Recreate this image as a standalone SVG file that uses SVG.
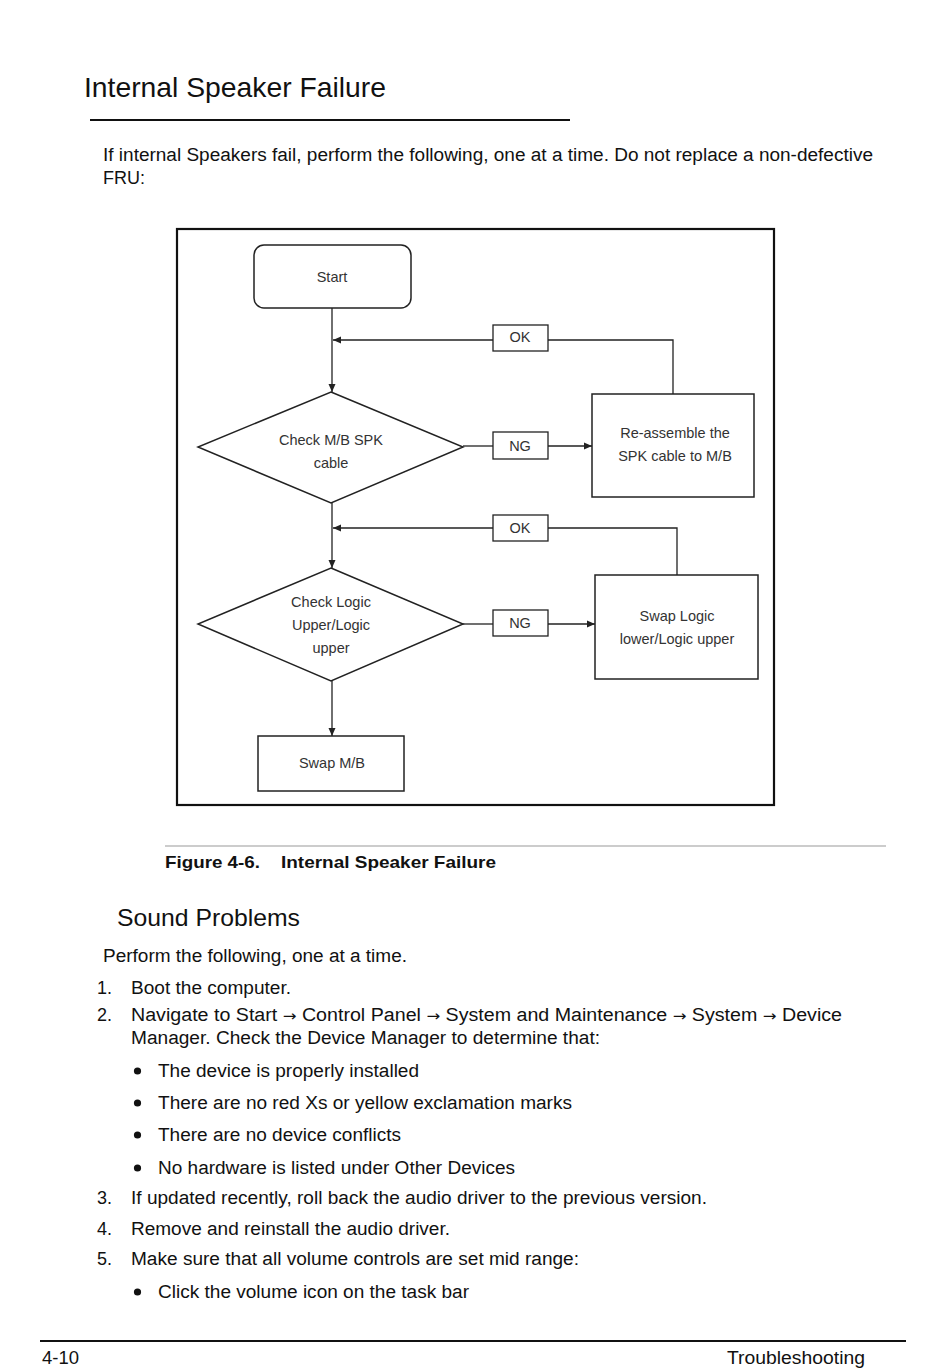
<svg xmlns="http://www.w3.org/2000/svg" width="950" height="1368" viewBox="0 0 950 1368">
<style>
.t{font-family:"Liberation Sans",Arial,sans-serif;fill:#111}
.h1{font-size:28px}
.h2{font-size:24px}
.b{font-size:18px}
.cap{font-size:17px;font-weight:bold}
.ar{font-family:"DejaVu Sans",sans-serif;font-size:15px}
.fc{font-family:"Liberation Sans",Arial,sans-serif;font-size:14.5px;fill:#333;text-anchor:middle}
.shape{fill:#fff;stroke:#222;stroke-width:1.5}
.lbl{fill:#fff;stroke:#222;stroke-width:1.3}
.ln{fill:none;stroke:#222;stroke-width:1.3}
</style>
<defs>
<marker id="ah" markerWidth="9" markerHeight="9" refX="8" refY="4.5" orient="auto" markerUnits="userSpaceOnUse">
<path d="M0,1 L8,4.5 L0,8 Z" fill="#222"/>
</marker>
</defs>
<rect width="950" height="1368" fill="#fff"/>

<!-- header -->
<text class="t h1" x="84" y="97" textLength="302" lengthAdjust="spacingAndGlyphs">Internal Speaker Failure</text>
<line x1="90" y1="120" x2="570" y2="120" stroke="#111" stroke-width="2"/>
<text class="t b" x="103" y="161" textLength="770" lengthAdjust="spacingAndGlyphs">If internal Speakers fail, perform the following, one at a time. Do not replace a non-defective</text>
<text class="t b" x="103" y="184">FRU:</text>

<!-- figure frame -->
<rect x="177" y="229" width="597" height="576" fill="none" stroke="#111" stroke-width="2.2"/>

<!-- connectors -->
<g id="connectors">
<line class="ln" x1="332" y1="308" x2="332" y2="392" marker-end="url(#ah)"/>
<polyline class="ln" points="673,394 673,340 548,340"/>
<line class="ln" x1="493" y1="340" x2="333" y2="340" marker-end="url(#ah)"/>
<line class="ln" x1="463" y1="446" x2="493" y2="446"/>
<line class="ln" x1="548" y1="446" x2="592" y2="446" marker-end="url(#ah)"/>
<line class="ln" x1="332" y1="503" x2="332" y2="568" marker-end="url(#ah)"/>
<polyline class="ln" points="677,575 677,528 548,528"/>
<line class="ln" x1="493" y1="528" x2="333" y2="528" marker-end="url(#ah)"/>
<line class="ln" x1="463" y1="624" x2="493" y2="624"/>
<line class="ln" x1="548" y1="624" x2="595" y2="624" marker-end="url(#ah)"/>
<line class="ln" x1="332" y1="681" x2="332" y2="736" marker-end="url(#ah)"/>
</g>

<!-- nodes -->
<g id="start">
<rect class="shape" x="254" y="245" width="157" height="63" rx="10"/>
<text class="fc" x="332" y="282">Start</text>
</g>
<g id="ok1">
<rect class="lbl" x="493" y="325" width="55" height="26"/>
<text class="fc" x="520" y="342">OK</text>
</g>
<g id="check-spk">
<polygon class="shape" points="331,392 463,447 331,503 198,447"/>
<text class="fc" x="331" y="445">Check M/B SPK</text>
<text class="fc" x="331" y="468">cable</text>
</g>
<g id="ng1">
<rect class="lbl" x="493" y="432" width="55" height="27"/>
<text class="fc" x="520" y="451">NG</text>
</g>
<g id="reassemble">
<rect class="shape" x="592" y="394" width="162" height="103"/>
<text class="fc" x="675" y="438">Re-assemble the</text>
<text class="fc" x="675" y="461">SPK cable to M/B</text>
</g>
<g id="ok2">
<rect class="lbl" x="493" y="515" width="55" height="26"/>
<text class="fc" x="520" y="533">OK</text>
</g>
<g id="check-logic">
<polygon class="shape" points="331,568 463,624 331,681 198,624"/>
<text class="fc" x="331" y="607">Check Logic</text>
<text class="fc" x="331" y="630">Upper/Logic</text>
<text class="fc" x="331" y="653">upper</text>
</g>
<g id="ng2">
<rect class="lbl" x="493" y="610" width="55" height="26"/>
<text class="fc" x="520" y="628">NG</text>
</g>
<g id="swap-logic">
<rect class="shape" x="595" y="575" width="163" height="104"/>
<text class="fc" x="677" y="621">Swap Logic</text>
<text class="fc" x="677" y="644">lower/Logic upper</text>
</g>
<g id="swap-mb">
<rect class="shape" x="258" y="736" width="146" height="55"/>
<text class="fc" x="332" y="768">Swap M/B</text>
</g>

<!-- caption -->
<line x1="165" y1="846" x2="886" y2="846" stroke="#999" stroke-width="1.2"/>
<text class="t cap" x="165" y="868" textLength="95" lengthAdjust="spacingAndGlyphs">Figure 4-6.</text>
<text class="t cap" x="281" y="868" textLength="215" lengthAdjust="spacingAndGlyphs">Internal Speaker Failure</text>

<!-- sound problems -->
<text class="t h2" x="117" y="926" textLength="183" lengthAdjust="spacingAndGlyphs">Sound Problems</text>
<text class="t b" x="103" y="962" textLength="304" lengthAdjust="spacingAndGlyphs">Perform the following, one at a time.</text>

<text class="t b" x="97" y="994">1.</text>
<text class="t b" x="131" y="994" textLength="160" lengthAdjust="spacingAndGlyphs">Boot the computer.</text>
<text class="t b" x="97" y="1021">2.</text>
<text class="t b" x="131" y="1021" textLength="711" lengthAdjust="spacingAndGlyphs">Navigate to Start <tspan class="ar">→</tspan> Control Panel <tspan class="ar">→</tspan> System and Maintenance <tspan class="ar">→</tspan> System <tspan class="ar">→</tspan> Device</text>
<text class="t b" x="131" y="1044" textLength="469" lengthAdjust="spacingAndGlyphs">Manager. Check the Device Manager to determine that:</text>

<g fill="#111">
<circle cx="137.5" cy="1071" r="3.6"/>
<circle cx="137.5" cy="1103" r="3.6"/>
<circle cx="137.5" cy="1135" r="3.6"/>
<circle cx="137.5" cy="1168" r="3.6"/>
<circle cx="137.5" cy="1292" r="3.6"/>
</g>
<text class="t b" x="158" y="1077" textLength="261" lengthAdjust="spacingAndGlyphs">The device is properly installed</text>
<text class="t b" x="158" y="1109" textLength="414" lengthAdjust="spacingAndGlyphs">There are no red Xs or yellow exclamation marks</text>
<text class="t b" x="158" y="1141" textLength="243" lengthAdjust="spacingAndGlyphs">There are no device conflicts</text>
<text class="t b" x="158" y="1174" textLength="357" lengthAdjust="spacingAndGlyphs">No hardware is listed under Other Devices</text>

<text class="t b" x="97" y="1204">3.</text>
<text class="t b" x="131" y="1204" textLength="576" lengthAdjust="spacingAndGlyphs">If updated recently, roll back the audio driver to the previous version.</text>
<text class="t b" x="97" y="1235">4.</text>
<text class="t b" x="131" y="1235" textLength="319" lengthAdjust="spacingAndGlyphs">Remove and reinstall the audio driver.</text>
<text class="t b" x="97" y="1265">5.</text>
<text class="t b" x="131" y="1265" textLength="448" lengthAdjust="spacingAndGlyphs">Make sure that all volume controls are set mid range:</text>
<text class="t b" x="158" y="1298" textLength="311" lengthAdjust="spacingAndGlyphs">Click the volume icon on the task bar</text>

<!-- footer -->
<line x1="40" y1="1341" x2="906" y2="1341" stroke="#111" stroke-width="2"/>
<text class="t b" x="42" y="1364" textLength="37" lengthAdjust="spacingAndGlyphs">4-10</text>
<text class="t b" x="727" y="1364" textLength="138" lengthAdjust="spacingAndGlyphs">Troubleshooting</text>
</svg>
